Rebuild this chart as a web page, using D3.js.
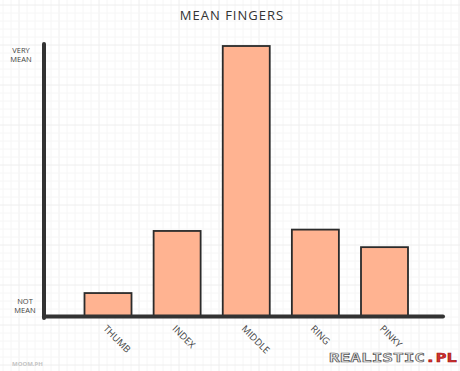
<!DOCTYPE html>
<html>
<head>
<meta charset="utf-8">
<script src="https://cdn.jsdelivr.net/npm/d3@7"></script>
<style>
  body { margin: 0; background: #fff; }
  svg { display: block; }
  text { font-family: "Open Sans", "DejaVu Sans", sans-serif; fill: #333; }
</style>
</head>
<body>
<div id="chart"></div>
<script>
var fingers = ['THUMB', 'INDEX', 'MIDDLE', 'RING', 'PINKY'];
var meanness = [8.5, 31.5, 100, 32, 25.5];
var yLabels = [['VERY', 'MEAN'], ['NOT', 'MEAN']];

var width = 460, height = 371;

var svg = d3.select('#chart').append('svg')
    .attr('width', width)
    .attr('height', height)

// paper grid
var grid = svg.append('g')
d3.range(3, width, 8).forEach((x, i) => {
    grid.append('line')
        .attr('x1', x).attr('x2', x)
        .attr('y1', 0).attr('y2', height)
        .attr('stroke', i % 5 == 2 ? '#eeeeee' : '#f6f6f6')
        .attr('stroke-width', 1)
})
d3.range(5, height, 8).forEach((y, i) => {
    grid.append('line')
        .attr('x1', 0).attr('x2', width)
        .attr('y1', y).attr('y2', y)
        .attr('stroke', i % 5 == 0 ? '#eeeeee' : '#f6f6f6')
        .attr('stroke-width', 1)
})

var x = d3.scaleBand()
    .domain(fingers)
    .range([84.5, 408])
    .paddingInner(0.32)
    .paddingOuter(0)

var y = d3.scaleLinear()
    .domain([0, 100])
    .range([316, 46])

var data = fingers.map((f, i) => ({ finger: f, value: meanness[i] }))

// title
svg.append('text')
    .attr('x', 232)
    .attr('y', 20)
    .attr('text-anchor', 'middle')
    .style('font-size', '13px')
    .style('letter-spacing', '1px')
    .text('MEAN FINGERS')

// bars
svg.selectAll('.bar')
    .data(data)
    .enter().append('rect')
    .attr('class', 'bar')
    .attr('x', d => x(d.finger))
    .attr('y', d => y(d.value))
    .attr('width', x.bandwidth())
    .attr('height', d => y(0) - y(d.value))
    .attr('fill', '#ffb391')
    .attr('stroke', '#2b2b2b')
    .attr('stroke-width', 1.8)

// axes
svg.append('line')
    .attr('x1', 44).attr('x2', 44)
    .attr('y1', 44).attr('y2', 318)
    .attr('stroke', '#333')
    .attr('stroke-width', 4)
    .attr('stroke-linecap', 'round')
svg.append('line')
    .attr('x1', 44).attr('x2', 443)
    .attr('y1', 316.5).attr('y2', 316.5)
    .attr('stroke', '#333')
    .attr('stroke-width', 4)
    .attr('stroke-linecap', 'round')

// y labels
var yl = svg.selectAll('.ylab')
    .data([{ v: 100, lines: yLabels[0], dy: 7 }, { v: 0, lines: yLabels[1], dy: -3 }])
    .enter().append('text')
    .attr('class', 'ylab')
    .attr('text-anchor', 'middle')
    .style('font-size', '7.5px')
    .style('fill', '#444')
yl.selectAll('tspan')
    .data(d => d.lines.map((l, i) => ({ l: l, i: i, d: d })))
    .enter().append('tspan')
    .attr('x', (t) => t.d.v == 100 ? 21 : 25)
    .attr('y', t => y(t.d.v) + t.d.dy - (t.d.v == 100 ? 0 : 9) + t.i * 9)
    .text(t => t.l)

// x labels
svg.selectAll('.xlab')
    .data(fingers)
    .enter().append('text')
    .attr('class', 'xlab')
    .attr('transform', d => 'translate(' + (x(d) + x.bandwidth() / 2 - 3) + ',327) rotate(45)')
    .attr('dy', '0.35em')
    .style('font-size', '9.5px')
    .style('fill', '#444')
    .text(d => d)

// credits
svg.append('text')
    .attr('x', 12)
    .attr('y', 366)
    .style('font-size', '6px')
    .style('font-weight', 'bold')
    .style('fill', '#c4c4c4')
    .text('MOOM.PH')

var logo = svg.append('text')
    .attr('x', 329)
    .attr('y', 362)
    .attr('textLength', 128)
    .attr('lengthAdjust', 'spacingAndGlyphs')
    .style('font-family', '"DejaVu Sans Mono", monospace')
    .style('font-size', '12px')
    .style('font-weight', 'bold')
    .style('stroke', '#555')
    .style('stroke-width', 0.6)
logo.append('tspan').style('fill', '#e8e8e8').text('REALISTIC')
logo.append('tspan').style('fill', '#d93030').style('stroke', '#a01818').text('.PL')
</script>
</body>
</html>
